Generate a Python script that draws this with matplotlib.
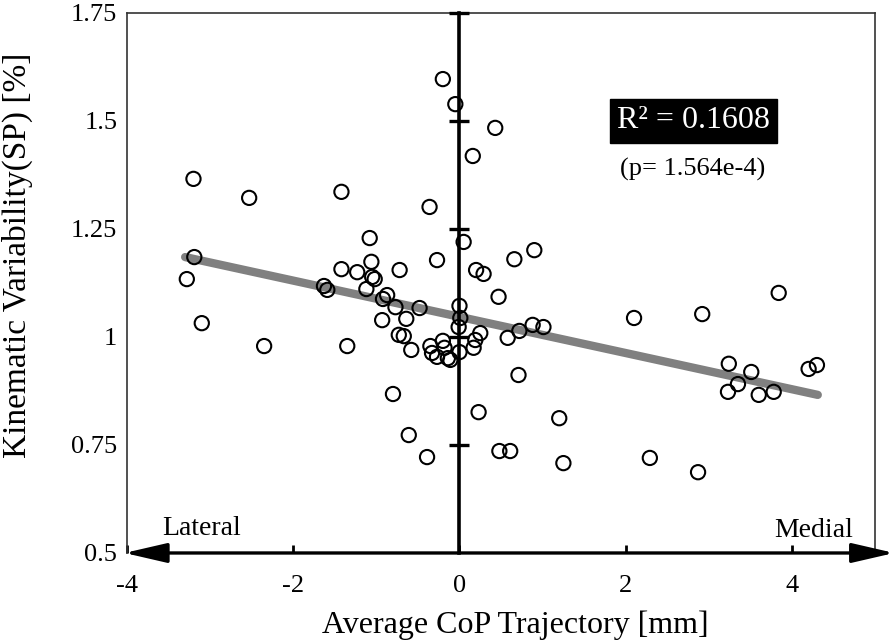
import matplotlib
matplotlib.use('Agg')
from matplotlib import pyplot as plt
from matplotlib.patches import FancyArrowPatch

plt.rcParams['font.family'] = ['Liberation Serif', 'DejaVu Serif']

# average CoP trajectory [mm]
cop = [-3.20, -2.53, -1.42, -1.08, -3.19, -3.28, -3.10, -2.35, -1.35, -1.42,
       -1.23, -1.06, -1.05, -1.02, -1.12, -1.63, -1.59, -0.72, -0.27, -0.87,
       -0.92, -0.77, -0.48, -0.93, -0.64, -0.73, -0.67, -0.58, 0.00, 0.01,
       -0.01, 0.20, 0.29, 0.47, -0.35, -0.33, -0.20, -0.27, -0.14, -0.11,
       0.00, 0.17, 0.19, 0.25, 0.58, 0.72, 0.88, 1.01, 0.71, -0.80,
       0.23, 1.20, -0.61, -0.39, 0.48, 0.61, 1.25, 2.29, 2.87, 3.24,
       3.51, 3.35, 3.23, 3.60, 3.78, 2.92, 3.84, 4.20, 4.30, 2.10,
       -0.20, -0.05, 0.43, 0.16, 0.05, 0.66, 0.90, -0.36, -0.18]
# kinematic variability (SP) [%]
kv = [1.366, 1.322, 1.336, 1.229, 1.185, 1.134, 1.032, 0.979, 0.979, 1.157,
      1.150, 1.174, 1.139, 1.134, 1.111, 1.118, 1.109, 1.155, 1.178, 1.097,
      1.088, 1.069, 1.067, 1.039, 1.042, 1.005, 1.002, 0.970, 1.072, 1.044,
      1.023, 1.155, 1.146, 1.093, 0.979, 0.963, 0.991, 0.954, 0.951, 0.947,
      0.965, 0.975, 0.993, 1.009, 0.998, 1.014, 1.028, 1.023, 0.912, 0.868,
      0.826, 0.812, 0.773, 0.722, 0.736, 0.736, 0.708, 0.720, 0.687, 0.938,
      0.919, 0.891, 0.873, 0.866, 0.873, 1.053, 1.102, 0.926, 0.935, 1.044,
      1.597, 1.539, 1.484, 1.419, 1.220, 1.180, 1.201, 1.301, 0.975]

# linear fit end points
fit_x = [-3.30, 4.31]
fit_y = [1.185, 0.866]

xticks = [-4, -2, 0, 2, 4]
yticks = [0.5, 0.75, 1.0, 1.25, 1.5, 1.75]
ytick_labels = ['0.5', '0.75', '1', '1.25', '1.5', '1.75']
inner_ticks = [0.75, 1.0, 1.25, 1.5, 1.75]

fig = plt.figure(figsize=(8.96, 6.43), dpi=100)
ax = fig.add_axes([0.1417, 0.14, 0.835, 0.8398])
ax.set_xlim(-4, 5)
ax.set_ylim(0.5, 1.75)

ax.plot(fit_x, fit_y, color='#808080', lw=6, solid_capstyle='round', zorder=2)
ax.scatter(cop, kv, s=105, facecolors='none', edgecolors='black', linewidths=1.5, zorder=3)

# vertical axis through zero with its own ticks
ax.plot([0, 0], [0.5, 1.75], color='black', lw=2.6, clip_on=False, zorder=4)
ax.plot([0] * len(inner_ticks), inner_ticks, ls='none', marker='_', ms=14,
        mew=2.4, color='black', clip_on=False, zorder=4)

# horizontal double arrow
arr = FancyArrowPatch((-4.03, 0.5), (5.23, 0.5), arrowstyle='<|-|>,head_length=2.6,head_width=0.6',
                      mutation_scale=10, lw=2.4, color='black', shrinkA=0, shrinkB=0,
                      clip_on=False, zorder=5)
ax.add_patch(arr)

for side in ['left', 'top', 'right']:
    ax.spines[side].set_color('#333333')
    ax.spines[side].set_linewidth(1.2)
ax.spines['bottom'].set_visible(False)

ax.set_xticks(xticks)
ax.set_xticklabels([str(t) for t in xticks])
ax.set_yticks(yticks)
ax.set_yticklabels(ytick_labels)
ax.tick_params(axis='x', direction='in', length=6, width=2, pad=16, labelsize=19)
ax.tick_params(axis='y', length=0, pad=7, labelsize=19)

ax.set_xlabel('Average CoP Trajectory [mm]', fontsize=23)
ax.set_ylabel('Kinematic Variability(SP) [%]', fontsize=24)
ax.xaxis.set_label_coords(0.519, -0.107)
ax.yaxis.set_label_coords(-0.126, 0.552)

ax.text(-3.58, 0.556, 'Lateral', fontsize=20, ha='left', va='center')
ax.text(4.73, 0.553, 'Medial', fontsize=20, ha='right', va='center')

ax.text(2.81, 1.50, 'R² = 0.1608', fontsize=23, color='white', ha='center', va='center',
        bbox=dict(facecolor='black', edgecolor='black', boxstyle='square,pad=0.22'))
ax.text(2.80, 1.387, '(p= 1.564e-4)', fontsize=19, ha='center', va='center')

plt.savefig('out.png', dpi=100)
